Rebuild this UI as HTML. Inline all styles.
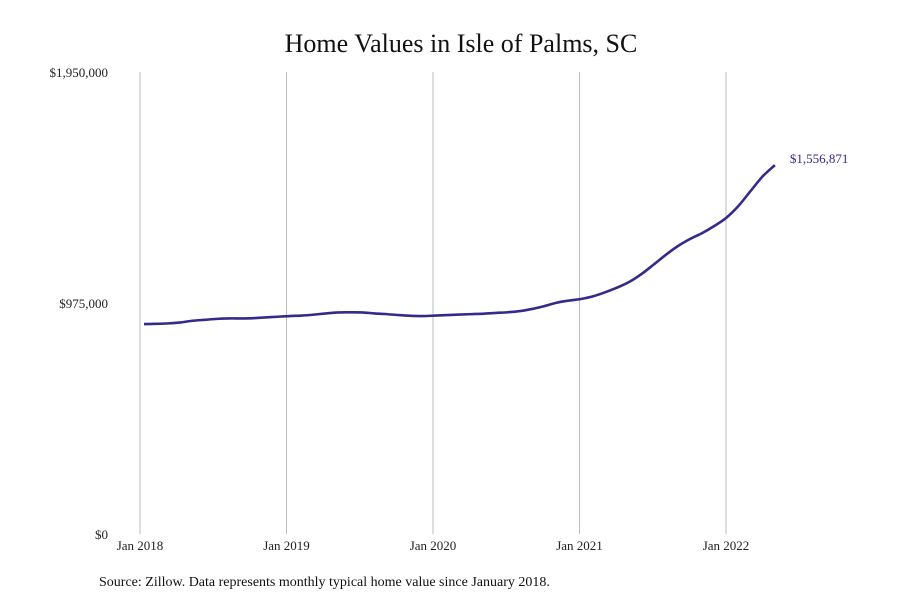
<!DOCTYPE html>
<html><head><meta charset="utf-8"><style>
body{margin:0;background:#fff;}
svg text{font-family:"Liberation Serif",serif;}
</style></head><body>
<svg id="chart" width="900" height="600" viewBox="0 0 900 600" xmlns="http://www.w3.org/2000/svg">
<text x="461" y="52" text-anchor="middle" font-size="26" fill="#111">Home Values in Isle of Palms, SC</text>
<g id="grid"></g>
<g id="yaxis"></g>
<g id="xaxis"></g>
<path id="line" fill="none" stroke="#332a8c" stroke-width="2.6" stroke-linejoin="round"/>
<text id="endlabel" font-size="13" fill="#332a8c"></text>
<text x="99" y="586" font-size="14" fill="#111">Source: Zillow. Data represents monthly typical home value since January 2018.</text>
</svg>
<script>
const values=[886000,887000,889000,893000,900000,904000,908000,910000,910000,911000,914000,917000,920000,922000,926000,931000,935000,935500,935000,931000,928000,924000,921000,920000,922000,924000,926000,928000,930000,933000,936000,941000,950000,962000,976000,985000,992000,1003000,1020000,1040000,1064000,1097000,1137000,1178000,1215000,1245000,1270000,1300000,1335000,1385000,1448000,1510000,1556871];
const yTicks=[0,975000,1950000];
const yTickLabels=["$0","$975,000","$1,950,000"];
const xTicks=[0,12,24,36,48];
const xTickLabels=["Jan 2018","Jan 2019","Jan 2020","Jan 2021","Jan 2022"];
const endLabel="$1,556,871";
const NS="http://www.w3.org/2000/svg";
const x=m=>140+m*(726-140)/48;
const y=v=>534-v/1950000*462;
function mk(tag,attrs,parent,txt){const e=document.createElementNS(NS,tag);for(const k in attrs)e.setAttribute(k,attrs[k]);if(txt!=null)e.textContent=txt;parent.appendChild(e);return e;}
const grid=document.getElementById('grid'),ya=document.getElementById('yaxis'),xa=document.getElementById('xaxis');
xTicks.forEach((m,i)=>{
 const l=mk('line',{x1:x(m),x2:x(m),y1:72,y2:534,stroke:'#bbb','stroke-width':1},grid);
 
 
 const t=mk('text',{x:x(m),y:550,'text-anchor':'middle','font-size':13,fill:'#222'},xa,xTickLabels[i]);
 
 
});
yTicks.forEach((v,i)=>{
 const t=mk('text',{x:108,y:y(v)+5,'text-anchor':'end','font-size':13,fill:'#222'},ya,yTickLabels[i]);
 
 
});
const pts=values.map((v,i)=>[x(i)+4*(1-i/values.length),y(v)]);
let d='M'+pts[0][0]+','+pts[0][1];
for(let i=0;i<pts.length-1;i++){
 const p0=pts[i-1]||pts[i],p1=pts[i],p2=pts[i+1],p3=pts[i+2]||p2;
 const c1=[p1[0]+(p2[0]-p0[0])/6,p1[1]+(p2[1]-p0[1])/6],c2=[p2[0]-(p3[0]-p1[0])/6,p2[1]-(p3[1]-p1[1])/6];
 d+=' C'+c1+' '+c2+' '+p2;
}
document.getElementById('line').setAttribute('d',d);
const last=pts[pts.length-1];
const el=document.getElementById('endlabel');
el.setAttribute('x',last[0]+15);el.setAttribute('y',last[1]-2);el.textContent=endLabel;
</script>
</body></html>
